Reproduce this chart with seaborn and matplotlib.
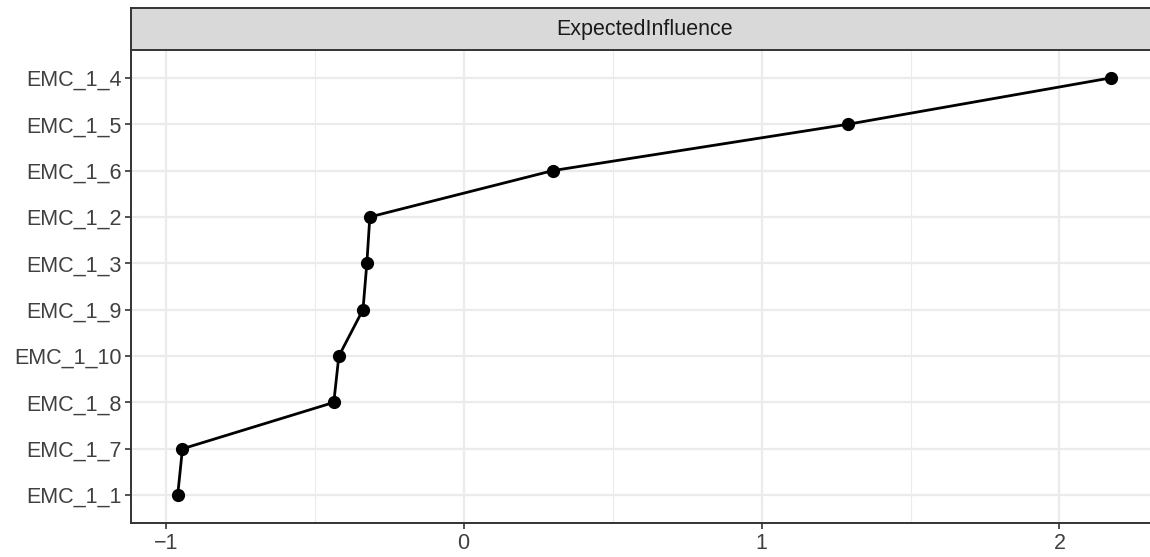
import matplotlib
matplotlib.use("Agg")
import matplotlib.pyplot as plt
import seaborn as sns
import pandas as pd
from matplotlib.ticker import MultipleLocator

categories = ["EMC_1_4", "EMC_1_5", "EMC_1_6", "EMC_1_2", "EMC_1_3",
              "EMC_1_9", "EMC_1_10", "EMC_1_8", "EMC_1_7", "EMC_1_1"]
values = [2.174, 1.291, 0.300, -0.315, -0.325,
          -0.338, -0.419, -0.436, -0.944, -0.960]
strip_title = "ExpectedInfluence"
xticks = [-1, 0, 1, 2]

sns.set_theme(style="white")
plt.rcParams['font.family'] = ['Liberation Sans', 'DejaVu Sans']

df = pd.DataFrame({"node": categories, "value": values})

W, H = 1150, 557
fig = plt.figure(figsize=(W / 100, H / 100), dpi=100)
L, R = 131, 1158
T_strip, B_strip, B_panel = 8, 50, 523
ax = fig.add_axes([L / W, (H - B_panel) / H, (R - L) / W, (B_panel - B_strip) / H])
sax = fig.add_axes([L / W, (H - B_strip) / H, (R - L) / W, (B_strip - T_strip) / H])

sns.pointplot(data=df, x="value", y="node", order=categories, orient="h",
              color="black", markers="o", markersize=8, linewidth=2.0,
              errorbar=None, ax=ax)

n = len(categories)
ax.set_ylim(n - 1 + 0.6, -0.6)
lo, hi = min(values), max(values)
pad = (hi - lo) * 0.05
ax.set_xlim(lo - pad, hi + pad)
ax.set_xticks(xticks)
ax.xaxis.set_minor_locator(MultipleLocator(0.5))

ax.set_axisbelow(True)
ax.grid(True, which="major", color="#EBEBEB", linewidth=1.6)
ax.grid(True, which="minor", axis="x", color="#EBEBEB", linewidth=0.8)
ax.set_xlabel("")
ax.set_ylabel("")
for side in ["top", "right"]:
    ax.spines[side].set_visible(False)
for side in ["left", "bottom"]:
    ax.spines[side].set_color("#333333")
    ax.spines[side].set_linewidth(1.4)
ax.tick_params(axis="both", which="major", length=4, width=1.2, color="#333333",
               labelsize=15.5, labelcolor="#404040", direction="out", pad=3,
               left=True, bottom=True)
ax.tick_params(axis="x", which="minor", length=0)
ax.set_facecolor("white")

sax.set_facecolor("#D9D9D9")
sax.set_xticks([])
sax.set_yticks([])
for s in sax.spines.values():
    s.set_color("#333333")
    s.set_linewidth(1.4)
sax.text(0.5, 0.5, strip_title, ha="center", va="center", fontsize=15.5,
         color="#1A1A1A", transform=sax.transAxes)

fig.savefig("out.png", dpi=100, facecolor="white")
